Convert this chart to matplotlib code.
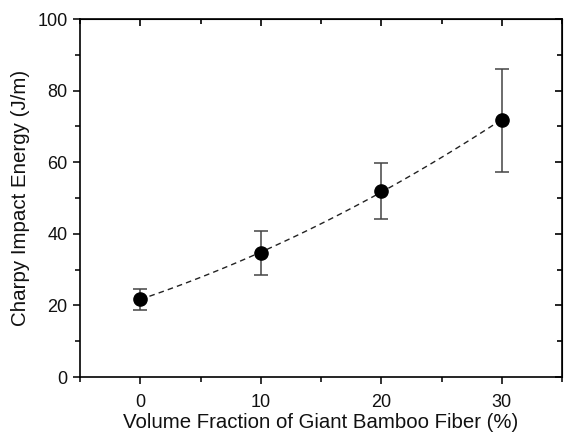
import matplotlib
matplotlib.use("Agg")
import matplotlib.pyplot as plt
import numpy as np
from matplotlib.ticker import MultipleLocator

plt.rcParams["font.family"] = ["Liberation Sans", "DejaVu Sans"]

volume_fraction = [0, 10, 20, 30]
impact_energy = [21.8, 34.5, 52.0, 71.8]
err_low = [18.6, 28.5, 44.1, 57.4]
err_high = [24.7, 40.8, 59.8, 86.0]

yerr = [
    [m - lo for m, lo in zip(impact_energy, err_low)],
    [hi - m for m, hi in zip(impact_energy, err_high)],
]

fig = plt.figure(figsize=(5.66, 4.33), dpi=100)
ax = fig.add_axes([80 / 566, 1 - 377 / 433, 482 / 566, 358 / 433])

# trend curve (quadratic fit to the means)
coef = np.polyfit(volume_fraction, impact_energy, 2)
xs = np.linspace(0, 30, 100)
ax.plot(xs, np.polyval(coef, xs), linestyle=(0, (4, 3)), color="#222222", linewidth=1.0)

ax.errorbar(volume_fraction, impact_energy, yerr=yerr, fmt="none", ecolor="#444444",
            elinewidth=1.1, capsize=4.7, capthick=1.1)
ax.plot(volume_fraction, impact_energy, "o", color="black", markersize=9.5, zorder=5)

ax.set_xlim(-5, 35)
ax.set_ylim(0, 100)
ax.xaxis.set_major_locator(MultipleLocator(10))
ax.xaxis.set_minor_locator(MultipleLocator(5))
ax.yaxis.set_major_locator(MultipleLocator(20))
ax.yaxis.set_minor_locator(MultipleLocator(10))

ax.tick_params(which="both", direction="out", top=False, right=False, width=1.2,
               labelsize=13, colors="#111111")
ax.tick_params(which="major", length=5)
ax.tick_params(which="minor", length=3.5)
ax.tick_params(axis="x", which="major", pad=7)
ax.tick_params(axis="y", which="major", pad=4)

# mirrored inward ticks on top and right
ax2 = ax.secondary_xaxis("top")
ax2.xaxis.set_major_locator(MultipleLocator(10))
ax2.xaxis.set_minor_locator(MultipleLocator(5))
ax2.tick_params(which="both", direction="in", labeltop=False, width=1.2)
ax2.tick_params(which="major", length=5)
ax2.tick_params(which="minor", length=3.5)
ax3 = ax.secondary_yaxis("right")
ax3.yaxis.set_major_locator(MultipleLocator(20))
ax3.yaxis.set_minor_locator(MultipleLocator(10))
ax3.tick_params(which="both", direction="in", labelright=False, width=1.2)
ax3.tick_params(which="major", length=5)
ax3.tick_params(which="minor", length=3.5)

for spine in ax.spines.values():
    spine.set_linewidth(1.2)

ax.set_xlabel("Volume Fraction of Giant Bamboo Fiber (%)", fontsize=14.7, color="#111111", labelpad=2)
ax.set_ylabel("Charpy Impact Energy (J/m)", fontsize=14.8, color="#111111", labelpad=5)

fig.savefig("out.png", dpi=100)
